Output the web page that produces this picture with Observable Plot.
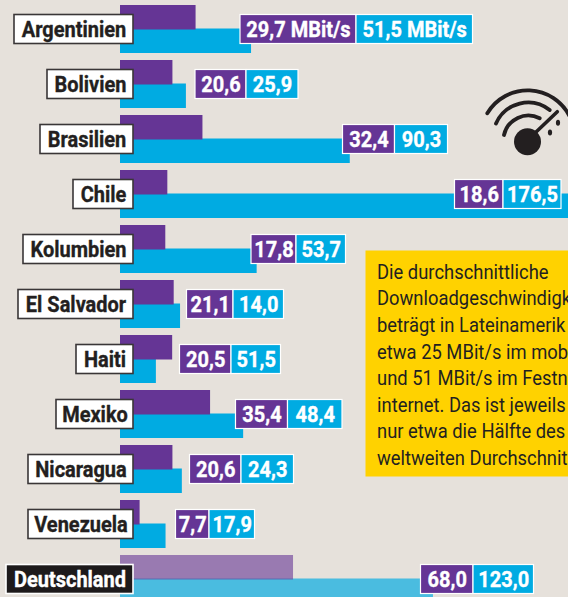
<!DOCTYPE html>
<html>
<head>
<meta charset="utf-8">
<script src="https://cdn.jsdelivr.net/npm/d3@7"></script>
<script src="https://cdn.jsdelivr.net/npm/@observablehq/plot@0.6"></script>
<style>
html,body{margin:0;padding:0;background:#E6E1DB;overflow:hidden}
svg{display:block}
</style>
</head>
<body>
<div id="chart"></div>
<script>
// ---- data ----
const countries = ["Argentinien","Bolivien","Brasilien","Chile","Kolumbien","El Salvador","Haiti","Mexiko","Nicaragua","Venezuela","Deutschland"];
const mobile = [29.7,20.6,32.4,18.6,17.8,21.1,20.5,35.4,20.6,7.7,68.0];
// bar lengths as drawn (El Salvador and Haiti bars differ from their printed labels)
const fixedBars = [51.5,25.9,90.3,176.5,53.7,23.6,14.1,48.4,24.3,17.9,123.0];
const mobileLabels = ["29,7 MBit/s","20,6","32,4","18,6","17,8","21,1","20,5","35,4","20,6","7,7","68,0"];
const fixedLabels = ["51,5 MBit/s","25,9","90,3","176,5","53,7","14,0","51,5","48,4","24,3","17,9","123,0"];
const calloutLines = ["Die durchschnittliche","Downloadgeschwindigk","beträgt in Lateinamerik","etwa 25 MBit/s im mob","und 51 MBit/s im Festn","internet. Das ist jeweils","nur etwa die Hälfte des","weltweiten Durchschnit"];

// ---- layout (annotation box edges in pixels, converted through the x scale) ----
const labelLeft = [14,47,40,73,23,18,76,56,28,28,6];
const valueLeft = [240,195,342.5,454.5,251,186.5,179.5,235.5,189.5,175.5,420.5];
const valueMid = [356,246,394.5,503,296,233,231,287.5,241,209,473];
const valueRight = [472.5,298,447.5,561,345.5,283.5,280.5,342,293.5,254.5,533.5];
const X0 = 120, K = 2.5445, W = 568, H = 597;
const u = p => (p - X0) / K;

const purple = "#653595", cyan = "#00ABE2", ink = "#231F20";
const FONT = "Roboto,'Liberation Sans',sans-serif";
const rows = countries.map((c,i)=>({c,i,mobile:mobile[i],fixed:fixedBars[i],ml:mobileLabels[i],fl:fixedLabels[i],
  ll:u(labelLeft[i]),r:u(133),vl:u(valueLeft[i]),vm:u(valueMid[i]),vr:u(valueRight[i]),
  de:c==="Deutschland",lm:u((labelLeft[i]+133)/2),mm:u((valueLeft[i]+valueMid[i])/2),fm:u((valueMid[i]+valueRight[i])/2)}));

// condensed look: squeeze each text horizontally
const squeeze = sx => (index, scales, values, dims, ctx, next) => {
  const g = next(index, scales, values, dims, ctx);
  d3.select(g).selectAll("text").attr("transform", function(){ return (this.getAttribute("transform")||"") + ` scale(${sx},1)`; });
  return g;
};

const icon = () => {
  const g = d3.create("svg:g").attr("fill","none").attr("stroke",ink).attr("stroke-linecap","round");
  g.append("path").attr("stroke-width",3.8).attr("d","M487.3 113.3A47 47 0 0 1 570 117");
  g.append("path").attr("stroke-width",3.8).attr("d","M496 123.5A35 35 0 0 1 549.7 110");
  g.append("path").attr("stroke-width",3.8).attr("d","M504 135A25 25 0 0 1 539.7 118.3");
  g.append("path").attr("stroke-width",3.6).attr("d","M534 134L557.3 111.7");
  g.append("circle").attr("cx",527.5).attr("cy",141.7).attr("r",13.5).attr("fill",ink).attr("stroke","none");
  g.append("ellipse").attr("cx",558).attr("cy",122.7).attr("rx",2.1).attr("ry",3).attr("fill",ink).attr("stroke","none");
  g.append("ellipse").attr("cx",550).attr("cy",132.5).attr("rx",2.1).attr("ry",3).attr("fill",ink).attr("stroke","none");
  return g.node();
};

const boldText = {fontWeight:"bold", fontSize:21.5, dy:0.8, strokeWidth:0.35, render:squeeze(0.93)};

const plot = Plot.plot({
  width: W, height: H, margin: 0,
  style: {background:"#E6E1DB", fontFamily: FONT, overflow:"hidden"},
  x: {domain:[0,(W-X0)/K], range:[X0,W], axis:null},
  y: {type:"band", domain:countries, range:[5,602.5], paddingInner:7.5/55, paddingOuter:0, axis:null},
  marks: [
    Plot.frame({fill:"#FFD200", stroke:null, insetLeft:365, insetTop:250, insetRight:-2, insetBottom:H-476}),
    Plot.text([calloutLines.join("\n")], {text:d=>d, frameAnchor:"top-left", textAnchor:"start", lineAnchor:"top", dx:376.5, dy:259.5, fontSize:20, lineHeight:26.6/20, fill:ink, render:squeeze(0.92)}),
    Plot.barX(rows, {x1:0, x2:"fixed", y:"c", fill:cyan, fillOpacity:d=>d.de?0.68:1, insetTop:23.5}),
    Plot.barX(rows, {x1:0, x2:"mobile", y:"c", fill:purple, fillOpacity:d=>d.de?0.6:1, insetBottom:23.5}),
    Plot.barX(rows, {x1:"ll", x2:"r", y:"c", fill:d=>d.de?"#1d1a1b":"#fff", stroke:d=>d.de?"#fff":"#3a3637", strokeWidth:1.6, insetTop:9.5, insetBottom:9.5}),
    Plot.text(rows, {x:"lm", y:"c", text:"c", fill:d=>d.de?"#fff":ink, stroke:d=>d.de?"#fff":ink, ...boldText}),
    Plot.barX(rows, {x1:"vl", x2:"vm", y:"c", fill:purple, stroke:"#fff", strokeWidth:1.2, insetTop:9.5, insetBottom:9.5}),
    Plot.barX(rows, {x1:"vm", x2:"vr", y:"c", fill:cyan, stroke:"#fff", strokeWidth:1.2, insetTop:9.5, insetBottom:9.5}),
    Plot.text(rows, {x:"mm", y:"c", text:"ml", fill:"#fff", stroke:"#fff", ...boldText}),
    Plot.text(rows, {x:"fm", y:"c", text:"fl", fill:"#fff", stroke:"#fff", ...boldText}),
    icon
  ]
});
document.getElementById("chart").append(plot);
</script>
</body>
</html>
